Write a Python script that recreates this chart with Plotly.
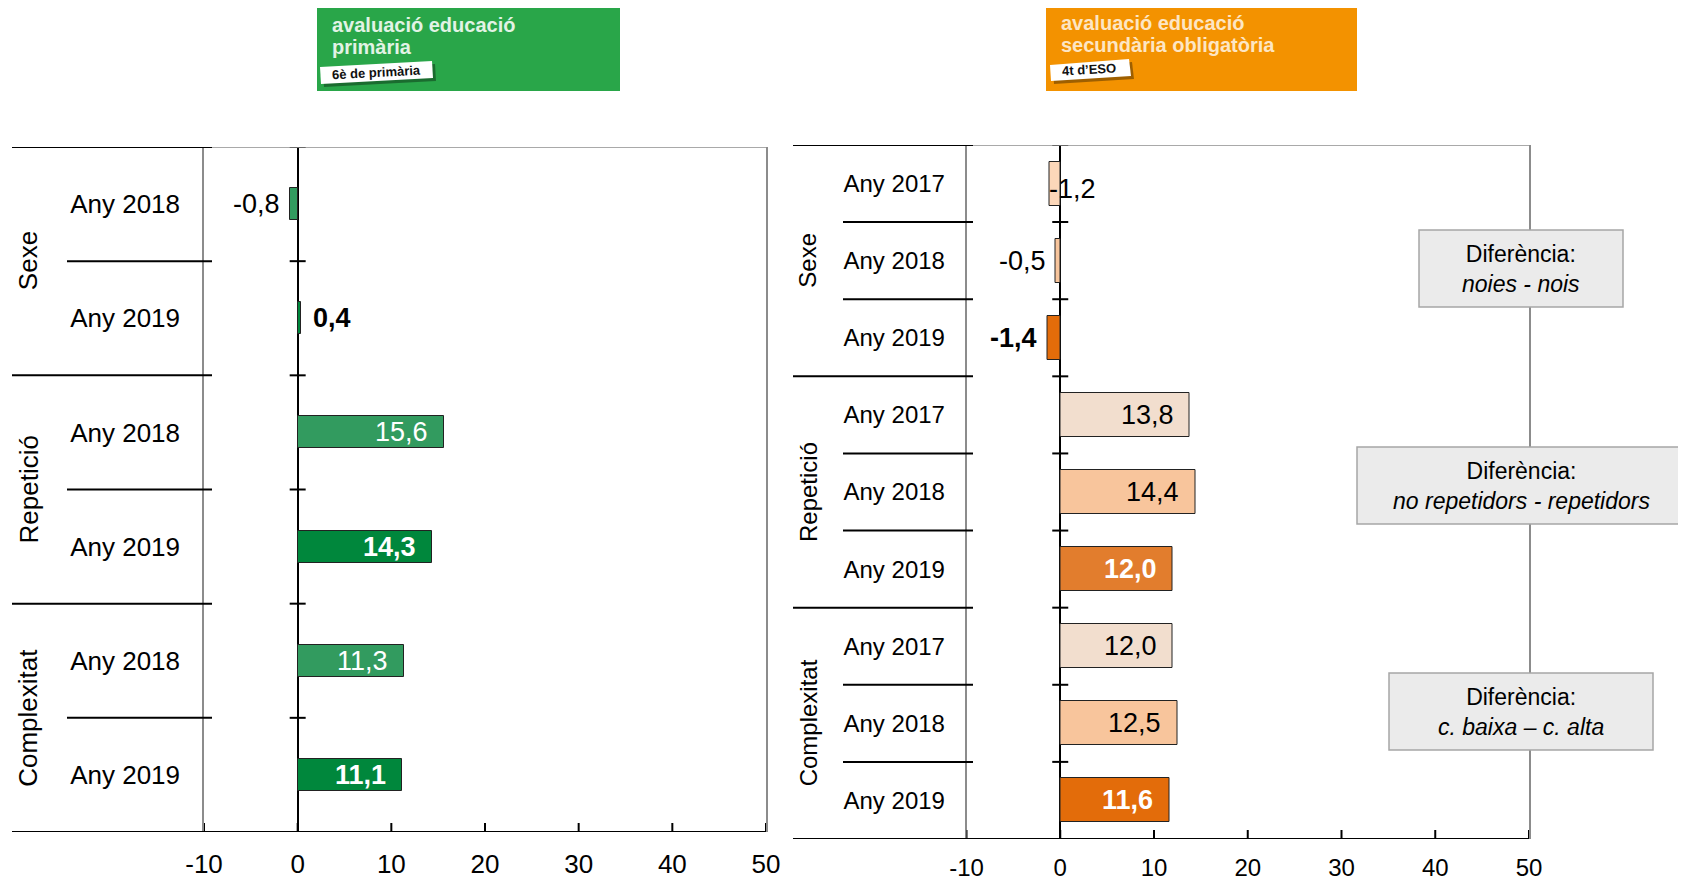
import plotly.graph_objects as go

# the page puts the figure 8px in from the top-left corner
OFF = 8
W, H = 1686 - OFF, 880 - OFF
FONT = "Liberation Sans, Arial, sans-serif"

# data
GROUPS = ["Sexe", "Repetició", "Complexitat"]

PRI_YEARS = ["Any 2018", "Any 2019"]
PRI_SEXE = [-0.8, 0.4]
PRI_REPETICIO = [15.6, 14.3]
PRI_COMPLEXITAT = [11.3, 11.1]

ESO_YEARS = ["Any 2017", "Any 2018", "Any 2019"]
ESO_SEXE = [-1.2, -0.5, -1.4]
ESO_REPETICIO = [13.8, 14.4, 12.0]
ESO_COMPLEXITAT = [12.0, 12.5, 11.6]

X_TICKS = [-10, 0, 10, 20, 30, 40, 50]

NOTES = ["noies - nois", "no repetidors - repetidors", "c. baixa – c. alta"]

# styles
PRI_COLORS = {"Any 2018": "#329b5f", "Any 2019": "#00873c"}
ESO_COLORS = {"Any 2017": "#f2dece", "Any 2018": "#f8c59c", "Any 2019": "#e36c0a"}
ESO_OVERRIDE = {("Sexe", "Any 2017"): "#fcd7b9", ("Repetició", "Any 2019"): "#e27d2d"}
PRI_INSIDE_TEXT = {"Any 2018": "white", "Any 2019": "white"}
ESO_INSIDE_TEXT = {"Any 2017": "black", "Any 2018": "black", "Any 2019": "white"}
GRAY = "#8c8c8c"


def px(x):
    return (x - OFF) / W


def py(y):
    return 1 - (y - OFF) / H


def fmt(v):
    return f"{v:.1f}".replace(".", ",")


fig = go.Figure()
shapes = []
annotations = []


def panel(suffix, years, series, colors, inside_text, geo, override=None):
    override = override or {}
    xa, ya = "x" + suffix, "y" + suffix
    rows = []
    for g, vals in zip(GROUPS, series):
        for yr, v in zip(years, vals):
            rows.append((g, yr, v))
    n = len(rows)
    idx = list(range(n))
    vals = [r[2] for r in rows]

    fig.add_trace(go.Bar(
        x=vals, y=idx, orientation="h", width=geo["bar_w"],
        marker=dict(color=[override.get((r[0], r[1]), colors[r[1]]) for r in rows],
                    line=dict(color="#222222", width=1)),
        xaxis=xa, yaxis=ya, showlegend=False, hoverinfo="x",
    ))

    last = years[-1]
    for i, (g, yr, v) in enumerate(rows):
        bold = yr == last
        txt = f"<b>{fmt(v)}</b>" if bold else fmt(v)
        a = dict(x=v, y=i, xref=xa, yref=ya, text=txt, showarrow=False, yanchor="middle",
                 font=dict(size=geo["val_size"], family=FONT, color="black"))
        if v >= 3:
            a.update(xanchor="right", xshift=-14, font=dict(size=geo["val_size"], family=FONT, color=inside_text[yr]))
        elif v >= 0:
            a.update(xanchor="left", xshift=10)
        elif (g, yr) in geo.get("special", {}):
            a.update(geo["special"][(g, yr)])
        else:
            a.update(xanchor="right", xshift=-8)
        annotations.append(a)

    # row separators + ticks on zero line
    for b in range(n + 1):
        yb = b - 0.5
        group_edge = b % len(years) == 0
        x0 = geo["grp_x0"] if group_edge else geo["inner_x0"]
        if b == n:
            shapes.append(dict(type="line", xref="paper", yref=ya, x0=px(geo["grp_x0"]), x1=px(geo["right"]),
                               y0=yb, y1=yb, line=dict(color="black", width=2), layer="above"))
        else:
            shapes.append(dict(type="line", xref="paper", yref=ya, x0=px(x0), x1=px(geo["lab_x1"]),
                               y0=yb, y1=yb, line=dict(color="black", width=2), layer="above"))
            shapes.append(dict(type="line", xref=xa, yref=ya, xsizemode="pixel", xanchor=0, x0=-8, x1=8,
                               y0=yb, y1=yb, line=dict(color="black", width=2), layer="above"))
    # top gray border
    shapes.append(dict(type="line", xref="paper", yref=ya, x0=px(geo["lab_x1"]), x1=px(geo["right"]),
                       y0=-0.5, y1=-0.5, line=dict(color=GRAY, width=1.5)))
    # crossing x ticks
    for t in X_TICKS:
        shapes.append(dict(type="line", xref=xa, yref=ya, x0=t, x1=t, ysizemode="pixel", yanchor=n - 0.5,
                           y0=-8, y1=9, line=dict(color="black", width=2), layer="above"))

    # group labels
    k = len(years)
    for gi, g in enumerate(GROUPS):
        annotations.append(dict(x=px(geo["grp_lab_x"]), y=gi * k + (k - 1) / 2, xref="paper", yref=ya,
                                xanchor="center", yanchor="middle",
                                text=g, textangle=-90, showarrow=False,
                                font=dict(size=geo["cat_size"], family=FONT, color="black")))

    axis_x = dict(domain=[px(geo["left"]), px(geo["right"])], range=[-10, 50],
                  tickvals=X_TICKS, ticktext=[str(t) for t in X_TICKS],
                  showgrid=False, zeroline=True, zerolinecolor="black", zerolinewidth=2,
                  showline=False, ticks="", tickfont=dict(size=geo["tick_size"], family=FONT, color="black"),
                  ticklabelstandoff=geo["x_standoff"], anchor=ya, fixedrange=True, automargin=False)
    axis_y = dict(domain=[py(geo["bottom"]), py(geo["top"])], range=[n - 0.5, -0.5],
                  tickvals=idx, ticktext=[r[1] for r in rows], showgrid=False, zeroline=False,
                  showline=True, linecolor=GRAY, linewidth=1.5, mirror=True, ticks="",
                  tickfont=dict(size=geo["cat_size"], family=FONT, color="black"),
                  ticklabelstandoff=geo["y_standoff"], anchor=xa, fixedrange=True, automargin=False)
    return axis_x, axis_y


pri_geo = dict(left=204, right=766, top=147, bottom=832, bar_w=0.28, grp_x0=12, inner_x0=67, lab_x1=212,
               grp_lab_x=28, cat_size=26, val_size=27, tick_size=26, x_standoff=14, y_standoff=17)
eso_geo = dict(left=966.5, right=1529, top=145, bottom=839, bar_w=0.57, grp_x0=793, inner_x0=843, lab_x1=973,
               grp_lab_x=808, cat_size=24, val_size=27, tick_size=24, x_standoff=12, y_standoff=15,
               special={("Sexe", "Any 2017"): dict(x=0, xanchor="left", xshift=-13, yshift=-5)})

x1, y1 = panel("", PRI_YEARS, [PRI_SEXE, PRI_REPETICIO, PRI_COMPLEXITAT], PRI_COLORS, PRI_INSIDE_TEXT, pri_geo)
x2, y2 = panel("2", ESO_YEARS, [ESO_SEXE, ESO_REPETICIO, ESO_COMPLEXITAT], ESO_COLORS, ESO_INSIDE_TEXT, eso_geo,
               ESO_OVERRIDE)

# note boxes on the right
boxes = [(1419, 1623, 230, 307), (1357, 1686, 447, 524), (1389, 1653, 673, 750)]
for (bx0, bx1, by0, by1), note in zip(boxes, NOTES):
    shapes.append(dict(type="rect", xref="paper", yref="paper", x0=px(bx0), x1=px(bx1), y0=py(by1), y1=py(by0),
                       fillcolor="#ebebeb", line=dict(color="#a6a6a6", width=1.5), layer="above"))
    annotations.append(dict(x=px((bx0 + bx1) / 2), y=py((by0 + by1) / 2), xref="paper", yref="paper",
                            xanchor="center", yanchor="middle",
                            text=f"Diferència:<br><i>{note}</i>", showarrow=False, align="center",
                            font=dict(size=23, family=FONT, color="black")))

# banners
banners = [
    dict(rect=(317, 620, 6, 91), color="#29a649", txt_color="#e2f3e5", x=330,
         lines=["avaluació educació", "primària"], ys=[25, 47],
         tag=[(320, 67), (432, 61), (433, 78), (321, 84)], tag_text="6è de primària", tag_c=(376, 73)),
    dict(rect=(1046, 1357, 3, 91), color="#f39200", txt_color="#fde6c4", x=1059,
         lines=["avaluació educació", "secundària obligatòria"], ys=[23, 45],
         tag=[(1050, 65), (1129, 59), (1131, 76), (1051, 81)], tag_text="4t d’ESO", tag_c=(1089, 70)),
]
for b in banners:
    rx0, rx1, ry0, ry1 = b["rect"]
    shapes.append(dict(type="rect", xref="paper", yref="paper", x0=px(rx0), x1=px(rx1), y0=py(ry1), y1=py(ry0),
                       fillcolor=b["color"], line=dict(width=0), layer="above"))
    for line, ly in zip(b["lines"], b["ys"]):
        annotations.append(dict(x=px(b["x"]), y=py(ly), xref="paper", yref="paper",
                                xanchor="left", yanchor="middle",
                                text=f"<b>{line}</b>", showarrow=False,
                                font=dict(size=20, family=FONT, color=b["txt_color"])))
    pts = b["tag"]
    shadow = "M " + " L ".join(f"{px(x + 3)},{py(y + 3)}" for x, y in pts) + " Z"
    path = "M " + " L ".join(f"{px(x)},{py(y)}" for x, y in pts) + " Z"
    shapes.append(dict(type="path", xref="paper", yref="paper", path=shadow,
                       fillcolor="rgba(0,0,0,0.35)", line=dict(width=0), layer="above"))
    shapes.append(dict(type="path", xref="paper", yref="paper", path=path,
                       fillcolor="white", line=dict(width=0), layer="above"))
    annotations.append(dict(x=px(b["tag_c"][0]), y=py(b["tag_c"][1]), xref="paper", yref="paper",
                            xanchor="center", yanchor="middle",
                            text=f"<b>{b['tag_text']}</b>", showarrow=False, textangle=-3,
                            font=dict(size=13, family=FONT, color="#111111")))

fig.update_layout(
    width=W, height=H, autosize=False,
    paper_bgcolor="white", plot_bgcolor="white",
    margin=dict(l=0, r=0, t=0, b=0, pad=0),
    font=dict(family=FONT, color="black"),
    xaxis=x1, yaxis=y1, xaxis2=x2, yaxis2=y2,
    shapes=shapes, annotations=annotations,
    bargap=0, showlegend=False,
)

fig.write_html("out.html", config={"displayModeBar": False})
